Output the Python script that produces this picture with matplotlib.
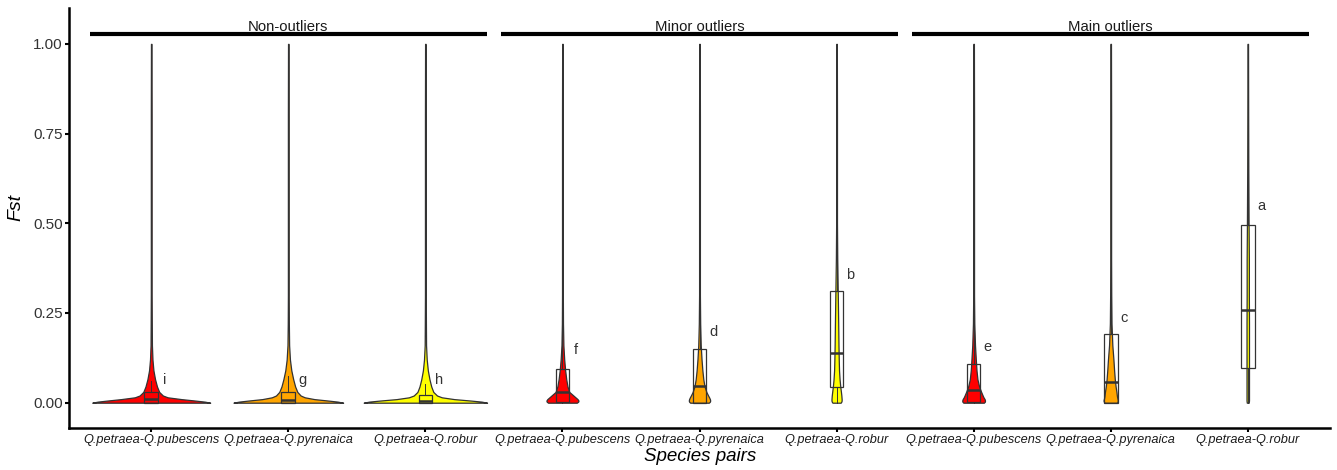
import numpy as np
import matplotlib.pyplot as plt

plt.rcParams['font.family'] = ['Liberation Sans', 'DejaVu Sans']

# categories
pairs = ['Q.petraea-Q.pubescens', 'Q.petraea-Q.pyrenaica', 'Q.petraea-Q.robur'] * 3
groups = ['Non-outliers', 'Minor outliers', 'Main outliers']
pair_colors = ['#FF0000', '#FFA500', '#FFFF00'] * 3

# violin half-widths (x units), on a shared Fst grid
fst_grid = [0, 0.003, 0.006, 0.01, 0.015, 0.02, 0.03, 0.045, 0.065, 0.09,
            0.12, 0.16, 0.22, 0.3, 0.4, 0.5, 0.65, 0.8, 1.0]
hw_non_pub = [0.43, 0.39, 0.32, 0.22, 0.12, 0.085, 0.058, 0.042, 0.028, 0.016,
              0.009, 0.005, 0.004, 0.003, 0.003, 0.003, 0.003, 0.003, 0.002]
hw_non_pyr = [0.40, 0.36, 0.29, 0.19, 0.12, 0.09, 0.066, 0.05, 0.036, 0.022,
              0.012, 0.006, 0.004, 0.003, 0.003, 0.003, 0.003, 0.003, 0.002]
hw_non_rob = [0.45, 0.41, 0.33, 0.21, 0.12, 0.085, 0.058, 0.043, 0.03, 0.018,
              0.01, 0.005, 0.004, 0.003, 0.003, 0.003, 0.003, 0.003, 0.002]
hw_min_pub = [0.105, 0.115, 0.117, 0.11, 0.095, 0.08, 0.05, 0.037, 0.028, 0.02,
              0.013, 0.007, 0.004, 0.003, 0.003, 0.003, 0.003, 0.003, 0.002]
hw_min_pyr = [0.068, 0.076, 0.078, 0.076, 0.07, 0.063, 0.05, 0.037, 0.028, 0.021,
              0.015, 0.009, 0.005, 0.003, 0.003, 0.003, 0.003, 0.003, 0.002]
hw_min_rob = [0.03, 0.035, 0.037, 0.037, 0.036, 0.035, 0.032, 0.027, 0.022, 0.018,
              0.016, 0.014, 0.012, 0.009, 0.005, 0.003, 0.003, 0.003, 0.002]
hw_main_pub = [0.075, 0.082, 0.083, 0.08, 0.072, 0.066, 0.055, 0.04, 0.028, 0.021,
               0.016, 0.01, 0.005, 0.003, 0.003, 0.003, 0.003, 0.003, 0.002]
hw_main_pyr = [0.045, 0.05, 0.052, 0.05, 0.047, 0.045, 0.042, 0.036, 0.03, 0.025,
               0.02, 0.012, 0.006, 0.004, 0.003, 0.003, 0.003, 0.003, 0.002]
hw_main_rob = [0.007, 0.008, 0.009, 0.009, 0.009, 0.009, 0.009, 0.009, 0.009, 0.009,
               0.009, 0.009, 0.009, 0.008, 0.008, 0.006, 0.004, 0.003, 0.002]
half_widths = [hw_non_pub, hw_non_pyr, hw_non_rob,
               hw_min_pub, hw_min_pyr, hw_min_rob,
               hw_main_pub, hw_main_pyr, hw_main_rob]

# boxplot stats
q1 = [0.0, 0.0, 0.0, 0.003, 0.0, 0.045, 0.003, 0.0, 0.098]
median = [0.010, 0.008, 0.006, 0.031, 0.047, 0.138, 0.035, 0.058, 0.258]
q3 = [0.030, 0.030, 0.021, 0.094, 0.150, 0.312, 0.108, 0.192, 0.495]
whisk_lo = [0, 0, 0, 0, 0, 0, 0, 0, 0]
whisk_hi = [0.06, 0.075, 0.052, 0.23, 0.375, 0.712, 0.265, 0.48, 1.0]

# significance letters
letters = ['i', 'g', 'h', 'f', 'd', 'b', 'e', 'c', 'a']
letter_y = [0.063, 0.063, 0.063, 0.147, 0.198, 0.356, 0.156, 0.235, 0.548]

EDGE = '#333333'
fig = plt.figure(figsize=(13.37, 4.70), dpi=100)
ax = fig.add_axes([69 / 1337, 1 - 428 / 470, 1261 / 1337, 420 / 470])

yy = np.array(fst_grid)
for k in range(9):
    pos = k + 1
    hw = np.array(half_widths[k])
    ax.fill_betweenx(yy, pos - hw, pos + hw, facecolor=pair_colors[k],
                     edgecolor=EDGE, linewidth=0.9, zorder=2)
    # box
    bw = 0.05
    ax.plot([pos, pos], [whisk_lo[k], q1[k]], color=EDGE, lw=0.7, zorder=3)
    ax.plot([pos, pos], [q3[k], whisk_hi[k]], color=EDGE, lw=0.7, zorder=3)
    ax.add_patch(plt.Rectangle((pos - bw, q1[k]), 2 * bw, q3[k] - q1[k],
                               facecolor='none', edgecolor=EDGE, lw=0.9, zorder=3))
    ax.plot([pos - bw, pos + bw], [median[k], median[k]], color=EDGE, lw=1.8,
            solid_capstyle='butt', zorder=4)
    ax.text(pos + 0.1, letter_y[k], letters[k], fontsize=10.5, color='#333333',
            ha='center', va='center')

# group header bars
for g, name in enumerate(groups):
    x0 = 3 * g + 0.55
    x1 = 3 * g + 3.45
    ax.plot([x0, x1], [1.0276, 1.0276], color='black', lw=3, solid_capstyle='butt',
            zorder=5)
    ax.text(3 * g + 2, 1.0276, name, fontsize=10.7, color='#1a1a1a',
            ha='center', va='bottom')

ax.set_xlim(0.4, 9.6)
ax.set_ylim(-0.0705, 1.10)
ax.set_xticks(range(1, 10))
ax.set_xticklabels(pairs, fontsize=9.2, style='italic', color='#1a1a1a')
ax.set_yticks([0, 0.25, 0.5, 0.75, 1.0])
ax.set_yticklabels(['0.00', '0.25', '0.50', '0.75', '1.00'], fontsize=11,
                   color='#333333')
ax.tick_params(axis='both', length=3, width=1.5, color='black', pad=1.5)

for side in ['top', 'right']:
    ax.spines[side].set_visible(False)
for side in ['left', 'bottom']:
    ax.spines[side].set_linewidth(1.8)
    ax.spines[side].set_color('black')

ax.set_xlabel('Species pairs', fontsize=13.5, style='italic')
ax.set_ylabel('Fst', fontsize=14, style='italic')
ax.xaxis.set_label_coords(0.5004, -0.069)
ax.yaxis.set_label_coords(-0.042, 0.525)
ax.xaxis.label.set_va('center')
ax.yaxis.label.set_va('center')

plt.savefig('out.png', dpi=100)
